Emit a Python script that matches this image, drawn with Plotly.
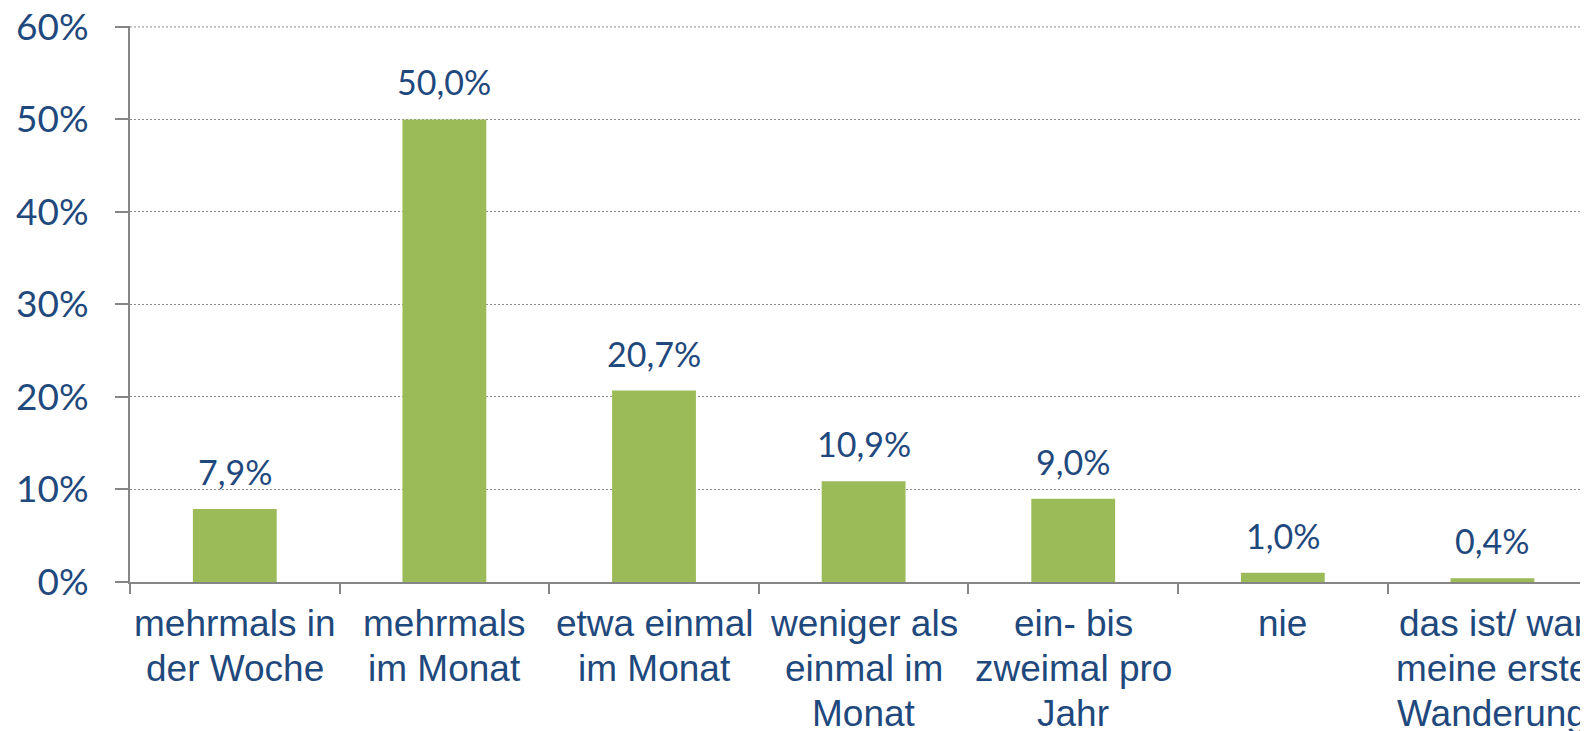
import plotly.graph_objects as go

categories = ["mehrmals in<br>der Woche", "mehrmals<br>im Monat", "etwa einmal<br>im Monat",
              "weniger als<br>einmal im<br>Monat", "ein- bis<br>zweimal pro<br>Jahr", "nie",
              "das ist/ war<br>meine erste<br>Wanderung"]
values = [7.9, 50.0, 20.7, 10.9, 9.0, 1.0, 0.4]
labels = ["7,9%", "50,0%", "20,7%", "10,9%", "9,0%", "1,0%", "0,4%"]
y_ticks = [0, 10, 20, 30, 40, 50, 60]
y_ticktext = ["0%", "10%", "20%", "30%", "40%", "50%", "60%"]

TEXT = "#1F497D"
GREEN = "#9BBB59"
AXIS = "#868686"
GRID = "#8C8C8C"

fig = go.Figure()
fig.add_trace(go.Bar(x=list(range(len(categories))), y=values, width=0.4,
                     marker=dict(color=GREEN, line=dict(width=0)),
                     hoverinfo="skip"))

# value labels above the bars
for i, (v, t) in enumerate(zip(values, labels)):
    fig.add_annotation(x=i, y=v, text=t, showarrow=False, yanchor="bottom",
                       yshift=15, font=dict(family="Lato", size=34, color=TEXT))

# category labels below the axis (one annotation per line for tight line spacing)
for i, cat in enumerate(categories):
    for j, line in enumerate(cat.split("<br>")):
        fig.add_annotation(x=i, y=0, text=line, showarrow=False, yanchor="middle",
                           yshift=-(41 + 45 * j),
                           font=dict(family="Liberation Sans", size=37, color=TEXT))

# top gridline (plotly omits the gridline that sits on the plot edge)
fig.add_shape(type="line", xref="paper", x0=0, x1=1, yref="y",
              y0=y_ticks[-1], y1=y_ticks[-1],
              line=dict(color=GRID, width=1, dash="2px,2px"), layer="below")

fig.update_layout(
    width=1580, height=723,
    margin=dict(l=122, r=0, t=18, b=149),
    plot_bgcolor="white", paper_bgcolor="white",
    showlegend=False,
)
fig.update_xaxes(
    type="linear",
    range=[-0.5, 6.456],
    tickvals=list(range(len(categories))),
    showticklabels=False,
    ticks="",
    showgrid=False,
    showline=True, linecolor=AXIS, linewidth=2,
    zeroline=False,
    automargin=False,
    minor=dict(tickvals=[-0.5, 0.5, 1.5, 2.5, 3.5, 4.5, 5.5], ticks="outside",
               ticklen=10, tickcolor=AXIS, tickwidth=2, showgrid=False),
)
fig.update_yaxes(
    range=[0, 60.1],
    tickmode="array", tickvals=y_ticks, ticktext=y_ticktext,
    ticks="outside", ticklen=13, tickcolor=AXIS, tickwidth=2,
    showline=True, linecolor=AXIS, linewidth=2,
    showgrid=True, gridcolor=GRID, griddash="2px,2px", gridwidth=1,
    zeroline=False,
    automargin=False,
    ticklabeloverflow="allow",
    tickfont=dict(family="Lato", size=37, color=TEXT),
    ticklabelstandoff=19,
)

fig.write_html("out.html")
